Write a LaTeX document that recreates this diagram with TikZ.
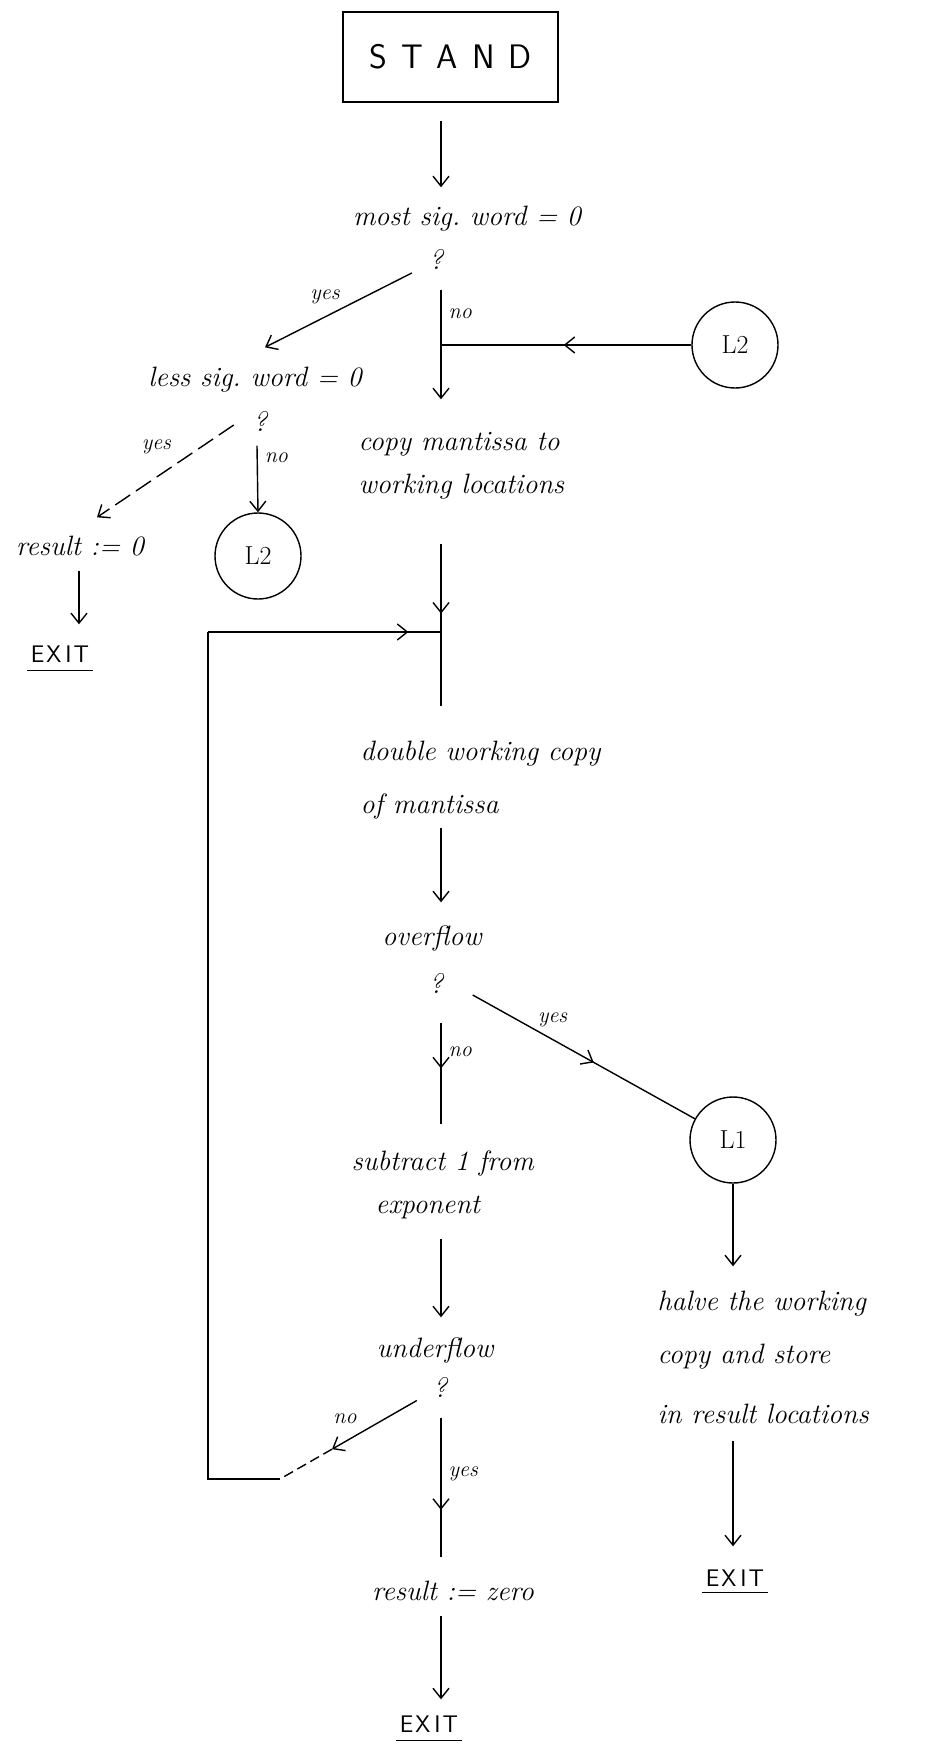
\documentclass[tikz,border=0pt]{standalone}
\usepackage{fontspec}
\usetikzlibrary{arrows.meta,calc,decorations.markings}
\begin{document}
\begin{tikzpicture}[x=1pt,y=-1pt,
  line width=1.4pt,
  arr/.style={-{Straight Barb[length=10pt,width=16pt]}},
  midarr/.style={postaction={decorate},
    decoration={markings, mark=at position #1 with {\arrow{Straight Barb[length=10pt,width=16pt]}}}},
  txt/.style={font=\fontsize{28}{34}\selectfont\itshape, inner sep=0pt, text height=19pt, text depth=5pt},
  lbl/.style={font=\fontsize{22}{26}\selectfont\itshape, inner sep=0pt},
  conn/.style={circle, draw, minimum size=86pt, inner sep=0pt, font=\fontsize{26}{30}\selectfont},
  exitlbl/.style={font=\fontsize{24}{28}\selectfont\sffamily, inner sep=0pt, text height=17pt, text depth=0pt},
  standbox/.style={draw, minimum width=215pt, minimum height=90pt, inner sep=0pt, font=\fontsize{34}{40}\selectfont\sffamily},
  brokenline/.style={dash pattern=on 18pt off 7pt}
]
\useasboundingbox[fill=white] (0,0) rectangle (937,1752);
\coordinate (spine) at (441,0);

% nodes
\node[standbox] (stand) at (450.5,57) {S\hspace{14pt}T\hspace{14pt}A\hspace{14pt}N\hspace{14pt}D};
\node[txt, anchor=base] (q1text) at (467,226) {most sig.\ word = 0};
\node[txt, anchor=base] (q1) at (436,270) {?};
\node[conn] (L2a) at (735,345) {L2};
\node[txt, anchor=base] (q2text) at (255,386) {less sig.\ word = 0};
\node[txt, anchor=base] (q2) at (260,431) {?};
\node[conn] (L2b) at (258,556) {L2};
\node[txt, anchor=base] (res0) at (80,555) {result := 0};
\node[exitlbl, anchor=base] (exit1) at (60,662) {E\hspace{2pt}X\hspace{4pt}I\hspace{2pt}T};
\node[txt, anchor=base west] (copyA) at (358,450) {copy mantissa to};
\node[txt, anchor=base west] (copyB) at (358,493) {working locations};
\node[txt, anchor=base west] (dblA) at (360,760) {double working copy};
\node[txt, anchor=base west] (dblB) at (360,813) {of mantissa};
\node[txt, anchor=base] (ovf) at (432,945) {overflow};
\node[txt, anchor=base] (q3) at (436,993) {?};
\node[conn] (L1) at (733,1140) {L1};
\node[txt, anchor=base west] (subA) at (351,1170) {subtract 1 from};
\node[txt, anchor=base west] (subB) at (375,1213) {exponent};
\node[txt, anchor=base west] (hA) at (657,1310) {halve the working};
\node[txt, anchor=base west] (hB) at (657,1363) {copy and store};
\node[txt, anchor=base west] (hC) at (657,1423) {in result locations};
\node[exitlbl, anchor=base] (exit2) at (735,1586) {E\hspace{2pt}X\hspace{4pt}I\hspace{2pt}T};
\node[txt, anchor=base] (udf) at (435,1357) {underflow};
\node[txt, anchor=base] (q4) at (440,1397) {?};
\node[txt, anchor=base] (resz) at (453,1600) {result := zero};
\node[exitlbl, anchor=base] (exit3) at (429,1732) {E\hspace{2pt}X\hspace{4pt}I\hspace{2pt}T};

% loop corners
\coordinate (c1) at (280,1479);
\coordinate (c2) at (208,1479);
\coordinate (c3) at (208,632);

% connectors
\draw[arr] ($(stand.south -| spine)+(0,18)$) -- ($(q1text.north -| spine)+(0,-19)$);
\draw[arr] ($(q1.south -| spine)+(0,14)$) -- ($(copyA.north -| spine)+(0,-31)$)
  node[lbl, pos=0.22, right=7pt] {no};
\draw[midarr=0.51] (L2a.west) -- (L2a.west -| spine);
\draw[arr] ($(q1.west)+(-16.5,10)$) -- ($(q2text.north)+(10,-19)$)
  node[lbl, pos=0.55, xshift=-6pt, yshift=17pt] {yes};
\draw[arr] ($(q2.south)+(-3,9)$) -- (L2b.north)
  node[lbl, pos=0.18, right=7pt] {no};
\draw[arr, brokenline] ($(q2.west)+(-18.5,1)$) -- ($(res0.north)+(17,-18)$)
  node[lbl, pos=0.5, xshift=-9pt, yshift=24pt] {yes};
\draw[arr] ($(res0.south)+(-1,10)$) -- ($(exit1.north -| res0.south)+(-1,-20)$);
\draw ($(exit1.south west)+(-3,8)$) -- ($(exit1.south east)+(3,8)$);

\draw[midarr=0.43] ($(copyB.south -| spine)+(0,45)$) -- ($(dblA.north -| spine)+(0,-34)$);
\draw[arr] ($(dblB.south -| spine)+(0,9)$) -- ($(ovf.north -| spine)+(0,-23)$);
\draw[midarr=0.45] ($(q3.south -| spine)+(0,24)$) -- ($(subA.north -| spine)+(0,-26)$)
  node[lbl, pos=0.29, right=7pt] {no};
\draw[midarr=0.545] ($(q3.east)+(29,9)$) -- (L1)
  node[lbl, pos=0.36, yshift=20pt] {yes};
\draw[arr] (L1.south) -- ($(hA.north -| L1.south)+(0,-24)$);
\draw[arr] ($(subB.south -| spine)+(0,20)$) -- ($(udf.north -| spine)+(0,-20)$);

% underflow "no" branch: solid to the arrow, broken to the corner
\path ($(q4.west)+(-15.5,10.5)$) coordinate (nstart) -- (c1) coordinate[pos=0.62] (nmid);
\draw[arr] (nstart) -- (nmid)
  node[lbl, pos=0.8, xshift=-4pt, yshift=21pt] {no};
\draw[dash pattern=on 10pt off 5pt] (nmid) -- (c1);
\draw (c1) -- (c2) -- (c3);
\draw[midarr=0.86] (c3) -- (c3 -| spine);

\draw[midarr=0.66] ($(q4.south -| spine)+(0,15)$) -- ($(resz.north -| spine)+(0,-23)$)
  node[lbl, pos=0.4, right=7pt] {yes};
\draw[arr] ($(resz.south -| spine)+(0,10)$) -- ($(exit3.north -| spine)+(0,-15)$);
\draw ($(exit3.south west)+(-3,8)$) -- ($(exit3.south east)+(3,8)$);
\draw[arr] ($(hC.south -| L1.south)+(0,12)$) -- ($(exit2.north -| L1.south)+(0,-22)$);
\draw ($(exit2.south west)+(-3,6)$) -- ($(exit2.south east)+(3,6)$);
\end{tikzpicture}
\end{document}
